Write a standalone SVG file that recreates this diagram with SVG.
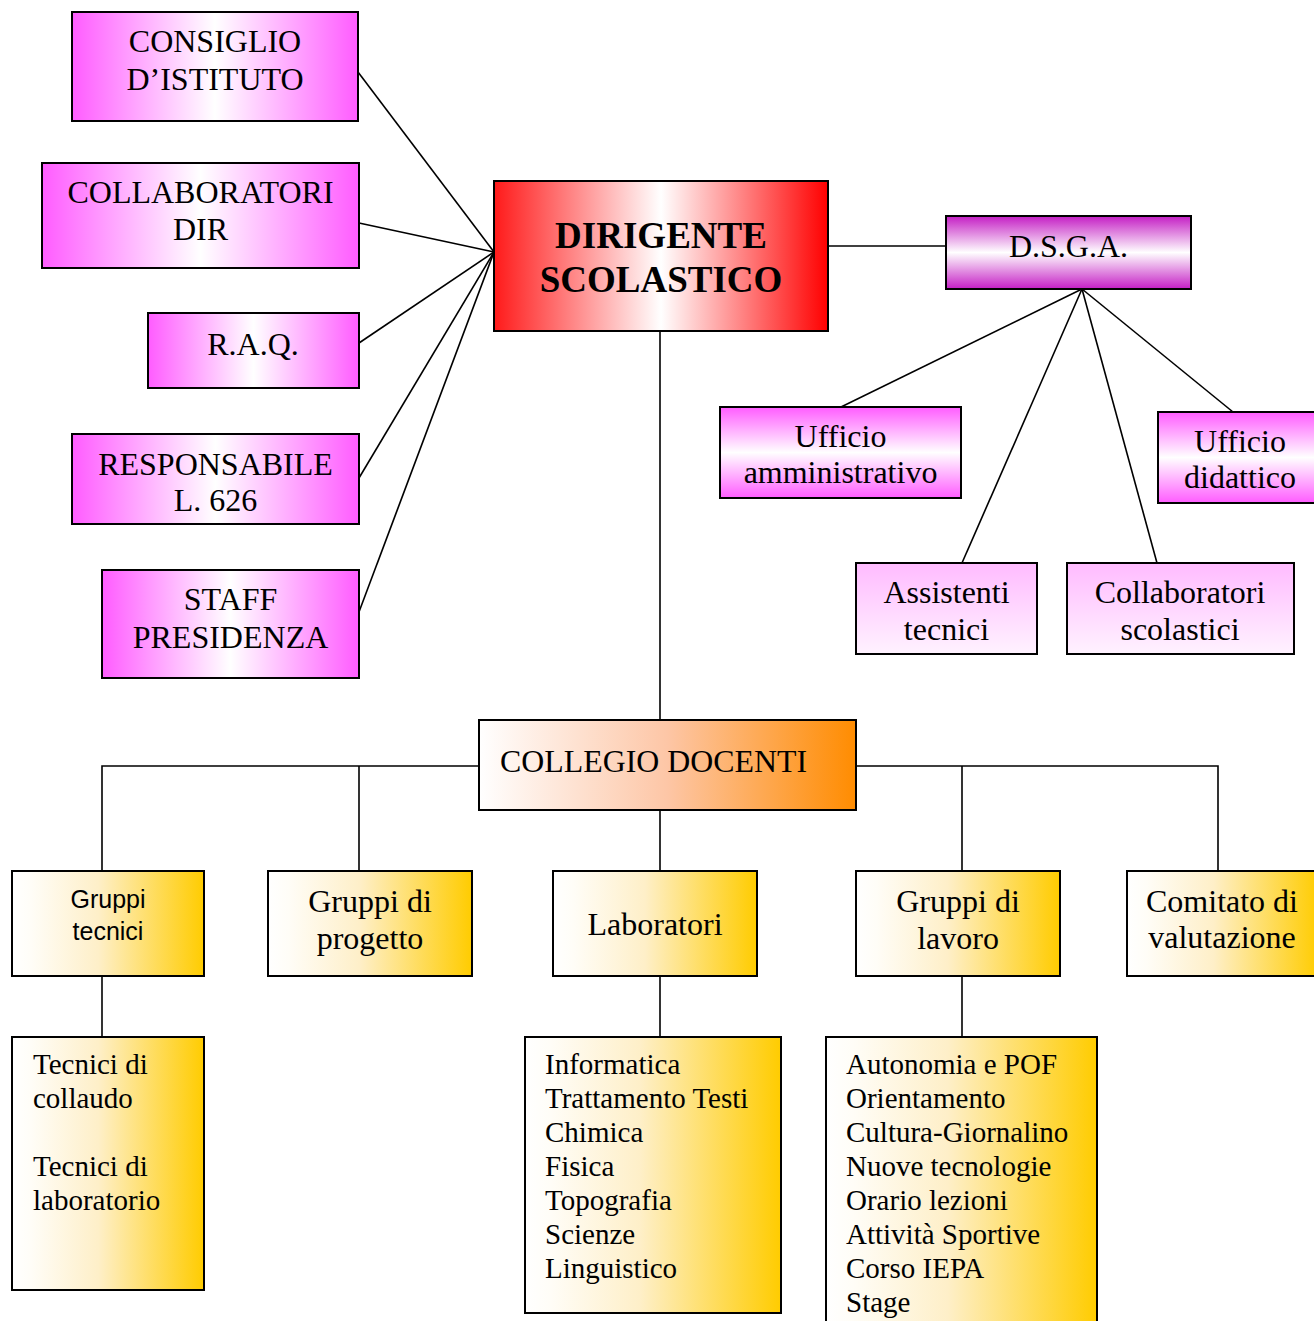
<svg xmlns="http://www.w3.org/2000/svg" width="1314" height="1321" viewBox="0 0 1314 1321">
<defs>
<linearGradient id="gMag" x1="0" y1="0" x2="1" y2="0">
<stop offset="0" stop-color="#ff5cff"/><stop offset="0.5" stop-color="#ffffff"/><stop offset="1" stop-color="#ff5cff"/>
</linearGradient>
<linearGradient id="gRed" x1="0" y1="0" x2="1" y2="0">
<stop offset="0" stop-color="#ff1a1a"/><stop offset="0.5" stop-color="#ffffff"/><stop offset="1" stop-color="#ff0000"/>
</linearGradient>
<linearGradient id="gPur" x1="0" y1="0" x2="0" y2="1">
<stop offset="0" stop-color="#c41ec4"/><stop offset="0.5" stop-color="#ffffff"/><stop offset="1" stop-color="#c41ec4"/>
</linearGradient>
<linearGradient id="gMagV" x1="0" y1="0" x2="0" y2="1">
<stop offset="0" stop-color="#ff5cff"/><stop offset="0.5" stop-color="#ffffff"/><stop offset="1" stop-color="#ff5cff"/>
</linearGradient>
<linearGradient id="gPink" x1="0" y1="0" x2="0" y2="1">
<stop offset="0" stop-color="#ffbbff"/><stop offset="1" stop-color="#fff2ff"/>
</linearGradient>
<linearGradient id="gOr" x1="0" y1="0" x2="1" y2="0">
<stop offset="0" stop-color="#ffffff"/><stop offset="0.5" stop-color="#fdc6a6"/><stop offset="1" stop-color="#ff8c00"/>
</linearGradient>
<linearGradient id="gGold" x1="0" y1="0" x2="1" y2="0">
<stop offset="0" stop-color="#ffffff"/><stop offset="0.1" stop-color="#fffdf7"/><stop offset="0.45" stop-color="#feefc8"/><stop offset="1" stop-color="#ffcc00"/>
</linearGradient>
</defs>
<style>
rect{stroke:#000;stroke-width:2}
text{font-family:"Liberation Serif","Times New Roman",serif;font-size:32px;fill:#000}
.c{text-anchor:middle}
.b{font-weight:bold;font-size:37px}
.s{font-family:"Liberation Sans",Arial,sans-serif;font-size:25px}
.l{font-size:29px}
#connectors line,#connectors polyline{stroke:#000;stroke-width:1.6;fill:none}
</style>
<rect width="1314" height="1321" fill="#fff" style="stroke:none"/>
<g id="connectors">
<line x1="358" y1="72" x2="494" y2="252"/>
<line x1="359" y1="223" x2="494" y2="252"/>
<line x1="359" y1="343" x2="494" y2="252"/>
<line x1="359" y1="478" x2="494" y2="252"/>
<line x1="359" y1="612" x2="494" y2="252"/>
<line x1="826" y1="246" x2="946" y2="246"/>
<line x1="1082" y1="289" x2="841" y2="407"/>
<line x1="1082" y1="289" x2="962" y2="563"/>
<line x1="1082" y1="289" x2="1157" y2="563"/>
<line x1="1082" y1="289" x2="1233" y2="412"/>
<line x1="660" y1="331" x2="660" y2="720"/>
<polyline points="102,871 102,766 479,766"/>
<line x1="359" y1="766" x2="359" y2="871"/>
<polyline points="856,766 1218,766 1218,871"/>
<line x1="962" y1="766" x2="962" y2="871"/>
<line x1="660" y1="810" x2="660" y2="871"/>
<line x1="102" y1="976" x2="102" y2="1037"/>
<line x1="660" y1="976" x2="660" y2="1037"/>
<line x1="962" y1="976" x2="962" y2="1037"/>
</g>
<g id="consiglio"><rect x="72" y="12" width="286" height="109" fill="url(#gMag)"/><text class="c" x="215" y="52">CONSIGLIO</text><text class="c" x="215" y="90">D’ISTITUTO</text></g>
<g id="collaboratori-dir"><rect x="42" y="163" width="317" height="105" fill="url(#gMag)"/><text class="c" x="200.5" y="203">COLLABORATORI</text><text class="c" x="200.5" y="240">DIR</text></g>
<g id="raq"><rect x="148" y="313" width="211" height="75" fill="url(#gMag)"/><text class="c" x="253" y="355">R.A.Q.</text></g>
<g id="responsabile"><rect x="72" y="434" width="287" height="90" fill="url(#gMag)"/><text class="c" x="215.5" y="475">RESPONSABILE</text><text class="c" x="215.5" y="511">L. 626</text></g>
<g id="staff"><rect x="102" y="570" width="257" height="108" fill="url(#gMag)"/><text class="c" x="230.5" y="610">STAFF</text><text class="c" x="230.5" y="648">PRESIDENZA</text></g>
<g id="dirigente"><rect x="494" y="181" width="334" height="150" fill="url(#gRed)"/><text class="c b" x="661" y="248">DIRIGENTE</text><text class="c b" x="661" y="292">SCOLASTICO</text></g>
<g id="dsga"><rect x="946" y="216" width="245" height="73" fill="url(#gPur)"/><text class="c" x="1068.5" y="257">D.S.G.A.</text></g>
<g id="uff-amm"><rect x="720" y="407" width="241" height="91" fill="url(#gMagV)"/><text class="c" x="840.5" y="447">Ufficio</text><text class="c" x="840.5" y="483">amministrativo</text></g>
<g id="uff-did"><rect x="1158" y="412" width="164" height="91" fill="url(#gMagV)"/><text class="c" x="1240" y="452">Ufficio</text><text class="c" x="1240" y="488">didattico</text></g>
<g id="assistenti"><rect x="856" y="563" width="181" height="91" fill="url(#gPink)"/><text class="c" x="946.5" y="603">Assistenti</text><text class="c" x="946.5" y="640">tecnici</text></g>
<g id="collab-scol"><rect x="1067" y="563" width="227" height="91" fill="url(#gPink)"/><text class="c" x="1180" y="603">Collaboratori</text><text class="c" x="1180" y="640">scolastici</text></g>
<g id="collegio"><rect x="479" y="720" width="377" height="90" fill="url(#gOr)"/><text x="500" y="772" textLength="307" lengthAdjust="spacingAndGlyphs">COLLEGIO DOCENTI</text></g>
<g id="gruppi-tecnici"><rect x="12" y="871" width="192" height="105" fill="url(#gGold)"/><text class="c s" x="108" y="908">Gruppi</text><text class="c s" x="108" y="940">tecnici</text></g>
<g id="gruppi-progetto"><rect x="268" y="871" width="204" height="105" fill="url(#gGold)"/><text class="c" x="370" y="912">Gruppi di</text><text class="c" x="370" y="949">progetto</text></g>
<g id="laboratori"><rect x="553" y="871" width="204" height="105" fill="url(#gGold)"/><text class="c" x="655" y="935">Laboratori</text></g>
<g id="gruppi-lavoro"><rect x="856" y="871" width="204" height="105" fill="url(#gGold)"/><text class="c" x="958" y="912">Gruppi di</text><text class="c" x="958" y="949">lavoro</text></g>
<g id="comitato"><rect x="1127" y="871" width="192" height="105" fill="url(#gGold)"/><text class="c" x="1222" y="912">Comitato di</text><text class="c" x="1222" y="948">valutazione</text></g>
<g id="tecnici"><rect x="12" y="1037" width="192" height="253" fill="url(#gGold)"/>
<text class="l" x="33" y="1074">Tecnici di</text><text class="l" x="33" y="1108">collaudo</text><text class="l" x="33" y="1176">Tecnici di</text><text class="l" x="33" y="1210">laboratorio</text></g>
<g id="lab-list"><rect x="525" y="1037" width="256" height="276" fill="url(#gGold)"/>
<text class="l" x="545" y="1074">Informatica</text><text class="l" x="545" y="1108">Trattamento Testi</text><text class="l" x="545" y="1142">Chimica</text><text class="l" x="545" y="1176">Fisica</text><text class="l" x="545" y="1210">Topografia</text><text class="l" x="545" y="1244">Scienze</text><text class="l" x="545" y="1278">Linguistico</text></g>
<g id="lavoro-list"><rect x="826" y="1037" width="271" height="300" fill="url(#gGold)"/>
<text class="l" x="846" y="1074">Autonomia e POF</text><text class="l" x="846" y="1108">Orientamento</text><text class="l" x="846" y="1142">Cultura-Giornalino</text><text class="l" x="846" y="1176">Nuove tecnologie</text><text class="l" x="846" y="1210">Orario lezioni</text><text class="l" x="846" y="1244">Attività Sportive</text><text class="l" x="846" y="1278">Corso IEPA</text><text class="l" x="846" y="1312">Stage</text></g>
</svg>
